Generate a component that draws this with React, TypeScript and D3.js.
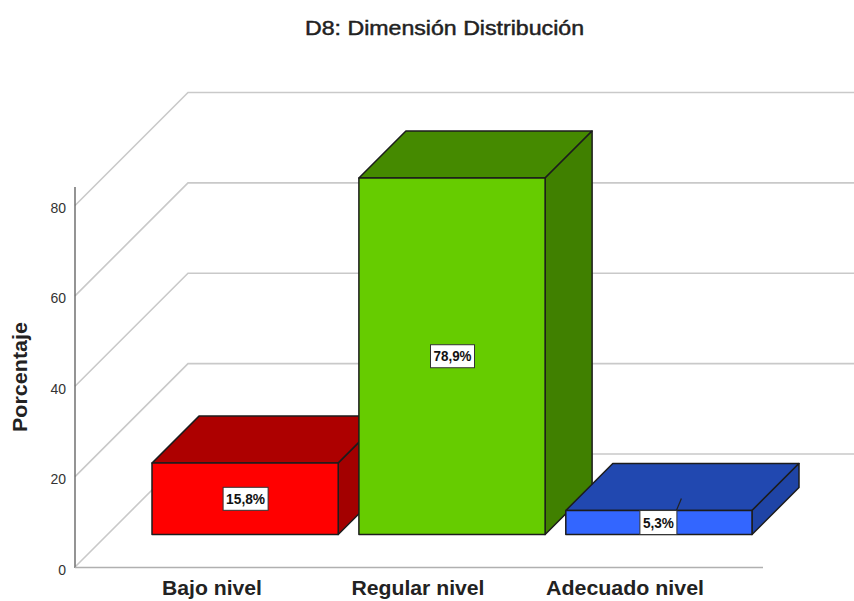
import React from "react";
import * as d3 from "d3";

const categories = ["Bajo nivel", "Regular nivel", "Adecuado nivel"];
const percentages = [15.8, 78.9, 5.3];
const valueLabels = ["15,8%", "78,9%", "5,3%"];
const ticks = [0, 20, 40, 60, 80];
const frontColors = ["#ff0000", "#66cc00", "#3366ff"];
const topColors = ["#ad0000", "#458a00", "#2148b0"];
const sideColors = ["#a30000", "#408000", "#1f44a6"];
const labelWidths = [45, 44, 37];
const labelOffsets = [0.5, 0.5, -0.5];
const categoryCenters = [212, 418, 625];
const categoryWidths = [100, 133, 158];

const FONT = "'Liberation Sans', Arial, sans-serif";
const WIDTH = 854;
const HEIGHT = 601;
const wallDepth = 113;
const barShift = 32.5;
const barDepth = 47;
const gridEnd = 854;

const y = d3.scaleLinear().domain([0, 80]).range([567, 205.5]);
const x = d3.scaleBand<string>().domain(categories).range([152, 752]).paddingInner(0.1).paddingOuter(0);
const poly = (pts: [number, number][]) => d3.line()(pts) + "Z";

export default function App() {
  const semi = { stroke: "#222", strokeWidth: 0.45, fill: "#222" };
  return (
    <svg width={WIDTH} height={HEIGHT} viewBox={`0 0 ${WIDTH} ${HEIGHT}`}
      style={{ position: "absolute", left: 0, top: 0, background: "#fff" }} fontFamily={FONT}>
      <text x={444.5} y={35} textAnchor="middle" fontSize={19.5} {...semi}
        textLength={279} lengthAdjust="spacingAndGlyphs">D8: Dimensión Distribución</text>

      {ticks.map((t) => (
        <path key={t} fill="none" stroke="#c9c9c9" strokeWidth={1.6}
          d={d3.line()([[75, y(t)], [75 + wallDepth, y(t) - wallDepth], [gridEnd, y(t) - wallDepth]]) ?? ""} />
      ))}
      <path d={`M75,187V568`} fill="none" stroke="#666" strokeWidth={1.4} />
      <path d={`M75,567.5H763`} fill="none" stroke="#b0b0b0" strokeWidth={1.6} />

      {ticks.map((t) => (
        <text key={t} x={66} y={y(t) + 7.5} textAnchor="end" fontSize={14} fill="#333">{t}</text>
      ))}

      <text transform="translate(27,377) rotate(-90)" textAnchor="middle" fontSize={20} fontWeight={700} fill="#222"
        textLength={110} lengthAdjust="spacingAndGlyphs">Porcentaje</text>

      {categories.map((c, i) => {
        const x0 = x(c)!;
        const x1 = x0 + x.bandwidth();
        const bottom = y(0) - barShift;
        const top = bottom - (y(0) - y(percentages[i]));
        return (
          <g key={c} stroke="#1c1c1c" strokeWidth={1.5} strokeLinejoin="round">
            <path fill={topColors[i]} d={poly([[x0, top], [x0 + barDepth, top - barDepth], [x1 + barDepth, top - barDepth], [x1, top]])} />
            <path fill={sideColors[i]} d={poly([[x1, top], [x1 + barDepth, top - barDepth], [x1 + barDepth, bottom - barDepth], [x1, bottom]])} />
            <path fill={frontColors[i]} d={poly([[x0, top], [x1, top], [x1, bottom], [x0, bottom]])} />
          </g>
        );
      })}

      {categories.map((c, i) => {
        const cx = x(c)! + x.bandwidth() / 2 + labelOffsets[i];
        const bottom = y(0) - barShift;
        const top = bottom - (y(0) - y(percentages[i]));
        const cy = (top + bottom) / 2;
        const w = labelWidths[i];
        const h = i === 2 ? 24 : 23;
        return (
          <g key={c}>
            {i === 2 && <path d={`M${cx + 18},${top}L${cx + 23},${top - 12}`} stroke="#222" strokeWidth={1.2} />}
            <rect x={cx - w / 2} y={cy - h / 2} width={w} height={h} fill="#fff" stroke="#333" strokeWidth={1} />
            <text x={cx} y={cy + 5} textAnchor="middle" fontSize={14} fontWeight={700} fill="#111"
              textLength={w - 6} lengthAdjust="spacingAndGlyphs">{valueLabels[i]}</text>
          </g>
        );
      })}

      {categories.map((c, i) => (
        <text key={c} x={categoryCenters[i]} y={595} fontSize={20} fontWeight={700} fill="#222"
          textAnchor="middle" textLength={categoryWidths[i]} lengthAdjust="spacingAndGlyphs">{c}</text>
      ))}
    </svg>
  );
}
